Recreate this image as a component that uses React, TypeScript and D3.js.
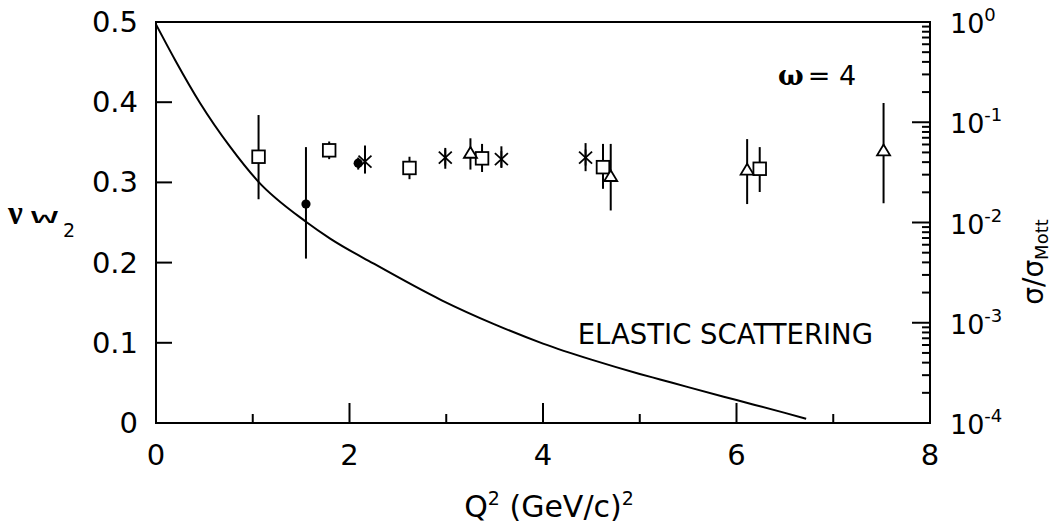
import React from "react";
import * as d3 from "d3";

// ---- data ----
const squareQ2 = [1.06, 1.79, 2.62, 3.37, 4.62, 6.24];
const squareW2 = [0.332, 0.34, 0.318, 0.33, 0.319, 0.317];
const squareLo = [0.279, 0.329, 0.304, 0.313, 0.292, 0.288];
const squareHi = [0.384, 0.351, 0.332, 0.348, 0.348, 0.344];

const triangleQ2 = [3.25, 4.7, 6.11, 7.52];
const triangleW2 = [0.337, 0.308, 0.316, 0.34];
const triangleLo = [0.316, 0.265, 0.273, 0.274];
const triangleHi = [0.355, 0.348, 0.354, 0.399];

const starQ2 = [2.16, 2.99, 3.57, 4.44];
const starW2 = [0.326, 0.331, 0.329, 0.331];
const starLo = [0.311, 0.317, 0.318, 0.314];
const starHi = [0.346, 0.343, 0.345, 0.349];

const circleQ2 = [1.55, 2.09];
const circleW2 = [0.273, 0.324];
const circleLo = [0.205, 0.316];
const circleHi = [0.344, 0.331];

const elasticQ2 = [0, 0.2, 0.455, 0.765, 1.057, 1.55, 1.8, 2.246, 2.953, 3.5, 4, 4.5, 5, 5.21, 5.5, 6, 6.5, 6.72];
const elasticW2 = [0.497, 0.452, 0.399, 0.3445, 0.301, 0.251, 0.23, 0.199, 0.153, 0.123, 0.099, 0.079, 0.0612, 0.0543, 0.0447, 0.0286, 0.0126, 0.0052];

const xTickMajor = [0, 2, 4, 6, 8];
const xTickMinor = [1, 3, 5, 7];
const yTicks = [0, 0.1, 0.2, 0.3, 0.4, 0.5];
const yTickLabels = ["0", "0.1", "0.2", "0.3", "0.4", "0.5"];
const logExps = [0, -1, -2, -3, -4];

const W = 1053;
const H = 525;
const L = 156, R = 930, T = 22, B = 423;
const FONT = "'DejaVu Sans', sans-serif";

export default function App() {
  const x = d3.scaleLinear().domain([0, 8]).range([L, R]);
  const y = d3.scaleLinear().domain([0, 0.5]).range([B, T]);
  const yl = d3.scaleLog().domain([1e-4, 1]).range([B, T]);

  const line = d3
    .line<number>()
    .x((_, i) => x(elasticQ2[i]))
    .y((d) => y(d))
    .curve(d3.curveMonotoneX);

  const minorLog: number[] = [];
  for (let e = -4; e < 0; e++) {
    for (let k = 2; k <= 9; k++) minorLog.push(k * Math.pow(10, e));
  }

  const errBar = (q: number, lo: number, hi: number, key: string) => (
    <line key={key} x1={x(q)} x2={x(q)} y1={y(lo)} y2={y(hi)} stroke="#000" strokeWidth={2} />
  );

  const sw = 1.8;
  return (
    <svg width={W} height={H} style={{ position: "absolute", left: 0, top: 0, background: "#fff" }}>
      <rect x={0} y={0} width={W} height={H} fill="#fff" />
      {/* frame */}
      <rect x={L} y={T} width={R - L} height={B - T} fill="none" stroke="#000" strokeWidth={2} />

      {/* left ticks */}
      {yTicks.map((t, i) => (
        <g key={"yl" + i}>
          {t > 0 && t < 0.5 && <line x1={L} x2={L + 16} y1={y(t)} y2={y(t)} stroke="#000" strokeWidth={2} />}
          <text x={138} y={y(t) + 10} textAnchor="end" fontFamily={FONT} fontSize={29} fill="#000">
            {yTickLabels[i]}
          </text>
        </g>
      ))}

      {/* bottom ticks */}
      {xTickMajor.map((t) => (
        <g key={"xm" + t}>
          {t > 0 && t < 8 && <line x1={x(t)} x2={x(t)} y1={B} y2={B - 20} stroke="#000" strokeWidth={2} />}
          <text x={x(t)} y={465} textAnchor="middle" fontFamily={FONT} fontSize={29} fill="#000">
            {t}
          </text>
        </g>
      ))}
      {xTickMinor.map((t) => (
        <line key={"xn" + t} x1={x(t)} x2={x(t)} y1={B} y2={B - 9} stroke="#000" strokeWidth={2} />
      ))}

      {/* right log ticks */}
      {logExps.map((e) => (
        <g key={"rl" + e}>
          {e < 0 && e > -4 && (
            <line x1={R} x2={R - 18} y1={yl(Math.pow(10, e))} y2={yl(Math.pow(10, e))} stroke="#000" strokeWidth={2} />
          )}
          <text x={950} y={yl(Math.pow(10, e)) + 11} fontFamily={FONT} fontSize={27} fill="#000">
            10
            <tspan dy={-12} fontSize={18}>
              {e === 0 ? "0" : "-" + Math.abs(e)}
            </tspan>
          </text>
        </g>
      ))}
      {minorLog.map((v, i) => (
        <line key={"mn" + i} x1={R} x2={R - 8} y1={yl(v)} y2={yl(v)} stroke="#000" strokeWidth={2} />
      ))}

      {/* elastic curve */}
      <path d={line(elasticW2) || ""} fill="none" stroke="#000" strokeWidth={2} />

      {/* error bars */}
      {squareQ2.map((q, i) => errBar(q, squareLo[i], squareHi[i], "es" + i))}
      {triangleQ2.map((q, i) => errBar(q, triangleLo[i], triangleHi[i], "et" + i))}
      {starQ2.map((q, i) => errBar(q, starLo[i], starHi[i], "ea" + i))}
      {circleQ2.map((q, i) => errBar(q, circleLo[i], circleHi[i], "ec" + i))}

      {/* markers */}
      {squareQ2.map((q, i) => (
        <rect key={"s" + i} x={x(q) - 6.3} y={y(squareW2[i]) - 6.3} width={12.6} height={12.6} fill="#fff" stroke="#000" strokeWidth={sw} />
      ))}
      {triangleQ2.map((q, i) => {
        const cx = x(q), cy = y(triangleW2[i]);
        return (
          <path key={"t" + i} d={`M${cx},${cy - 5.8}L${cx + 6.5},${cy + 5}L${cx - 6.5},${cy + 5}Z`} fill="#fff" stroke="#000" strokeWidth={sw} strokeLinejoin="miter" />
        );
      })}
      {starQ2.map((q, i) => {
        const cx = x(q), cy = y(starW2[i]);
        return (
          <g key={"a" + i} stroke="#000" strokeWidth={sw}>
            <line x1={cx - 6.5} y1={cy - 6} x2={cx + 6.5} y2={cy + 6} />
            <line x1={cx - 6.5} y1={cy + 6} x2={cx + 6.5} y2={cy - 6} />
            <line x1={cx} y1={cy - 8} x2={cx} y2={cy + 8} />
          </g>
        );
      })}
      {circleQ2.map((q, i) => (
        <circle key={"c" + i} cx={x(q)} cy={y(circleW2[i])} r={4.6} fill="#000" />
      ))}

      {/* labels inside */}
      <text x={778} y={85} fontSize={27} fill="#000">
        <tspan fontFamily="'DejaVu Serif', serif" fontWeight="bold">ω</tspan>
        <tspan fontFamily={FONT} dx={4}>= 4</tspan>
      </text>
      <text x={873} y={344} textAnchor="end" fontFamily={FONT} fontSize={27.5} fill="#000">
        ELASTIC SCATTERING
      </text>

      {/* axis titles */}
      <text x={549} y={517} textAnchor="middle" fontFamily={FONT} fontSize={30} fill="#000">
        Q<tspan dy={-12} fontSize={19}>2</tspan>
        <tspan dy={12}> (GeV/c)</tspan>
        <tspan dy={-12} fontSize={19}>2</tspan>
      </text>

      <text x={8} y={224} fontFamily="'Liberation Serif', serif" fontWeight="bold" fontSize={33} fill="#000">
        ν
      </text>
      <text x={31} y={223} fontFamily="'Liberation Mono', monospace" fontWeight="normal" fontSize={19} textLength={27} lengthAdjust="spacingAndGlyphs" fill="#000">
        W
      </text>
      <text x={63} y={237} fontFamily={FONT} fontSize={19} fill="#000">
        2
      </text>

      <text transform="translate(1043,262) rotate(-90)" textAnchor="middle" fontFamily={FONT} fontSize={28} fill="#000">
        σ/σ<tspan dy={5} fontSize={18}>Mott</tspan>
      </text>
    </svg>
  );
}
